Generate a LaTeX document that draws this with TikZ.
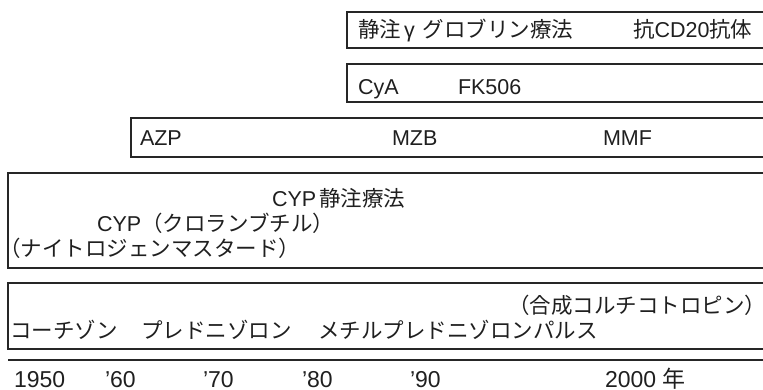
\documentclass[tikz,border=0pt]{standalone}
\usepackage{fontspec}
\setmainfont{Liberation Sans}
\newfontfamily\jp{Noto Sans CJK JP}
\begin{document}
\begin{tikzpicture}[x=1pt,y=-1pt,
  lbl/.style={anchor=base west,inner sep=0pt,outer sep=0pt,text=black!88,
    font=\fontsize{21.5}{26}\selectfont},
  yr/.style={lbl,font=\fontsize{23}{26}\selectfont},
  frame/.style={draw=black!85,line width=1.1pt}]
\useasboundingbox (0,0) rectangle (763,390);
% open-ended bars
\draw[frame] (764,12) -| (347,48) -- (764,48);
\draw[frame] (764,64) -| (347,102) -- (764,102);
\draw[frame] (764,118) -| (131,157) -- (764,157);
\draw[frame] (764,173) -| (8,268) -- (764,268);
\draw[frame] (764,283) -| (8,349) -- (764,349);
\coordinate (axl) at (8,360);
\coordinate (axr) at (764,360);
\draw[frame] (axl) -- (axr);
% bar 1
\node[lbl] (ivig) at (358,37.5) {{\jp 静注}\hspace{3pt}γ\hspace{8pt}{\jp グロブリン療法}};
\node[lbl] (cd20) at (633,37.5) {{\jp 抗}CD20{\jp 抗体}};
% bar 2
\node[lbl] (cya) at (358,95) {CyA};
\node[lbl] (fk) at (458,95) {FK506};
% bar 3
\node[lbl] (azp) at (140,146) {AZP};
\node[lbl] (mzb) at (392,146) {MZB};
\node[lbl] (mmf) at (603,146) {MMF};
% bar 4
\node[lbl] (cypiv) at (272,207) {CYP\hspace{3pt}{\jp 静注療法}};
\node[lbl] (cyp) at (97,232) {CYP{\jp （クロランブチル）}};
\node[lbl] (nm) at (-1,257) {{\jp （ナイトロジェンマスタード）}};
% bar 5
\node[lbl] (acth) at (508,313) {{\jp （合成コルチコトロピン）}};
\node[lbl] (cort) at (10,338) {{\jp コーチゾン}};
\node[lbl] (pred) at (141,338) {{\jp プレドニゾロン}};
\node[lbl] (mpul) at (318,338) {{\jp メチルプレドニゾロンパルス}};
% years
\node[yr] (y50) at (14,387) {1950};
\node[yr] (y60) at (105,387) {’60};
\node[yr] (y70) at (203,387) {’70};
\node[yr] (y80) at (302,387) {’80};
\node[yr] (y90) at (410,387) {’90};
\node[yr] (y00) at (605,387) {2000 {\jp 年}};
\end{tikzpicture}
\end{document}
